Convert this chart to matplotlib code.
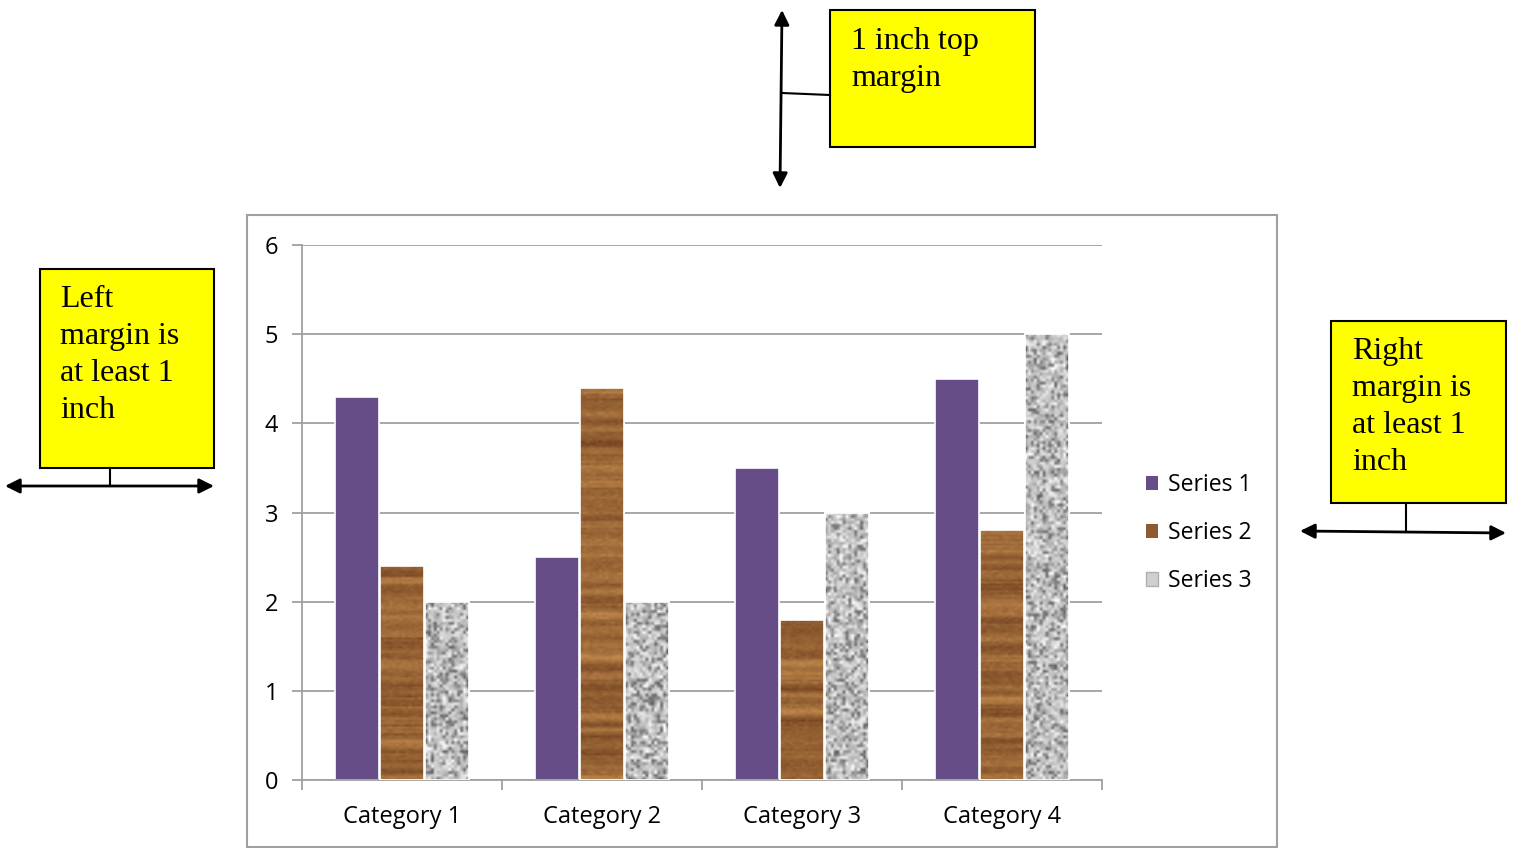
import numpy as np
import matplotlib
matplotlib.use("Agg")
import matplotlib.pyplot as plt
from matplotlib.patches import Rectangle, FancyArrowPatch, Patch
from matplotlib.lines import Line2D

categories = ["Category 1", "Category 2", "Category 3", "Category 4"]
series_names = ["Series 1", "Series 2", "Series 3"]
series1 = [4.3, 2.5, 3.5, 4.5]
series2 = [2.4, 4.4, 1.8, 2.8]
series3 = [2.0, 2.0, 3.0, 5.0]
yticks = [0, 1, 2, 3, 4, 5, 6]

W, H = 1520, 848
fig = plt.figure(figsize=(W / 100, H / 100), dpi=100)
plt.rcParams['font.family'] = ['Open Sans', 'DejaVu Sans']
serif = ['Liberation Serif', 'DejaVu Serif']


def fx(x):
    return x / W


def fy(y):
    return 1 - y / H


rng = np.random.default_rng(3)


def wood_texture(rows, cols):
    # horizontal grain: per-row tone plus a bit of streaking
    base = rng.normal(0, 1, rows + 6)
    base = np.convolve(base, np.ones(3) / 3, mode="same")[3:rows + 3]
    t = np.clip(0.55 + 0.25 * base, 0, 1)[:, None] + rng.normal(0, 0.06, (rows, cols))
    t = np.clip(t, 0, 1)
    dark = np.array([0.40, 0.22, 0.10])
    light = np.array([0.76, 0.54, 0.30])
    return dark + (light - dark) * t[..., None]


def granite_texture(rows, cols):
    g = 0.78 + 0.11 * rng.normal(0, 1, (rows, cols))
    spots = rng.random((rows, cols)) < 0.18
    g[spots] = 0.38 + 0.15 * rng.random(spots.sum())
    g = np.clip(g, 0, 1)
    return np.repeat(g[..., None], 3, axis=2)


# chart frame
fig.patches.append(Rectangle((fx(247), fy(847)), fx(1277) - fx(247), fy(215) - fy(847),
                             transform=fig.transFigure, fill=False, edgecolor="#a0a0a0", lw=1.5))

ax = fig.add_axes([fx(302), fy(780), fx(1102) - fx(302), fy(245) - fy(780)])

x = np.arange(len(categories))
width = 0.22
offsets = [-0.225, 0.0, 0.225]
colors = ["#664d88", "#955f32", "#c8c8c8"]

for i, (vals, off) in enumerate(zip([series1, series2, series3], offsets)):
    bars = ax.bar(x + off, vals, width, color=colors[i], edgecolor="white", lw=1.2, zorder=2)
    if i == 0:
        continue
    for b in bars:
        h = b.get_height()
        l = b.get_x()
        if i == 1:
            img = wood_texture(max(int(h * 40), 2), 14)
        else:
            img = granite_texture(max(int(h * 30), 2), 15)
        im = ax.imshow(img, extent=(l, l + width, 0, h), aspect="auto", zorder=2.5,
                       interpolation="bilinear")
        im.set_clip_path(b)
        ax.bar(l + width / 2, h, width, facecolor="none", edgecolor="white", lw=1.2, zorder=3)

ax.set_xlim(-0.5, 3.5)
ax.set_ylim(0, 6)
ax.set_yticks(yticks)
ax.yaxis.grid(True, color="#a0a0a0", lw=1.3, zorder=0)
ax.set_axisbelow(True)
ax.set_xticks(np.arange(-0.5, 4, 1))
ax.set_xticklabels([])
ax.set_xticks(x, categories, minor=True)
ax.tick_params(axis="x", which="minor", length=0, pad=18, labelsize=17)
ax.tick_params(axis="x", which="major", length=7, color="#a0a0a0", width=1.3)
ax.tick_params(axis="y", length=7, color="#a0a0a0", width=1.3, pad=10, labelsize=17)
for s in ["top", "right"]:
    ax.spines[s].set_visible(False)
for s in ["left", "bottom"]:
    ax.spines[s].set_color("#a0a0a0")
    ax.spines[s].set_linewidth(1.3)

handles = [Patch(facecolor=colors[0]), Patch(facecolor="#8f5a30"), Patch(facecolor="#d0d0d0", edgecolor="#b0b0b0")]
fig.legend(handles, series_names, loc="center left", bbox_to_anchor=(fx(1125), fy(533)),
           frameon=False, fontsize=16.6, handlelength=0.55, handleheight=0.55,
           handletextpad=0.4, labelspacing=1.05)


# callouts
def callout(x0, y0, x1, y1, text, tx, ty):
    fig.patches.append(Rectangle((fx(x0), fy(y1)), fx(x1) - fx(x0), fy(y0) - fy(y1),
                                 transform=fig.transFigure, facecolor="#ffff00",
                                 edgecolor="black", lw=1.5))
    fig.text(fx(tx), fy(ty), text, family=serif, fontsize=23, va="top", ha="left",
             linespacing=1.37)


def arrow(p0, p1):
    fig.add_artist(FancyArrowPatch((fx(p0[0]), fy(p0[1])), (fx(p1[0]), fy(p1[1])),
                                   transform=fig.transFigure, arrowstyle="<|-|>",
                                   mutation_scale=22, lw=2, color="black",
                                   shrinkA=0, shrinkB=0))


def line(p0, p1):
    fig.add_artist(Line2D([fx(p0[0]), fx(p1[0])], [fy(p0[1]), fy(p1[1])],
                          transform=fig.transFigure, color="black", lw=1.5))


callout(830, 10, 1035, 147, "1 inch top\nmargin", 851, 27)
arrow((782, 10), (780, 188))
line((782, 93), (830, 95))

callout(40, 269, 214, 468, "Left\nmargin is\nat least 1\ninch", 60, 285)
line((110, 468), (110, 486))
arrow((5, 486), (214, 486))

callout(1331, 321, 1506, 503, "Right\nmargin is\nat least 1\ninch", 1352, 337)
line((1406, 503), (1406, 531))
arrow((1300, 531), (1506, 533))

fig.savefig("out.png", dpi=100)
